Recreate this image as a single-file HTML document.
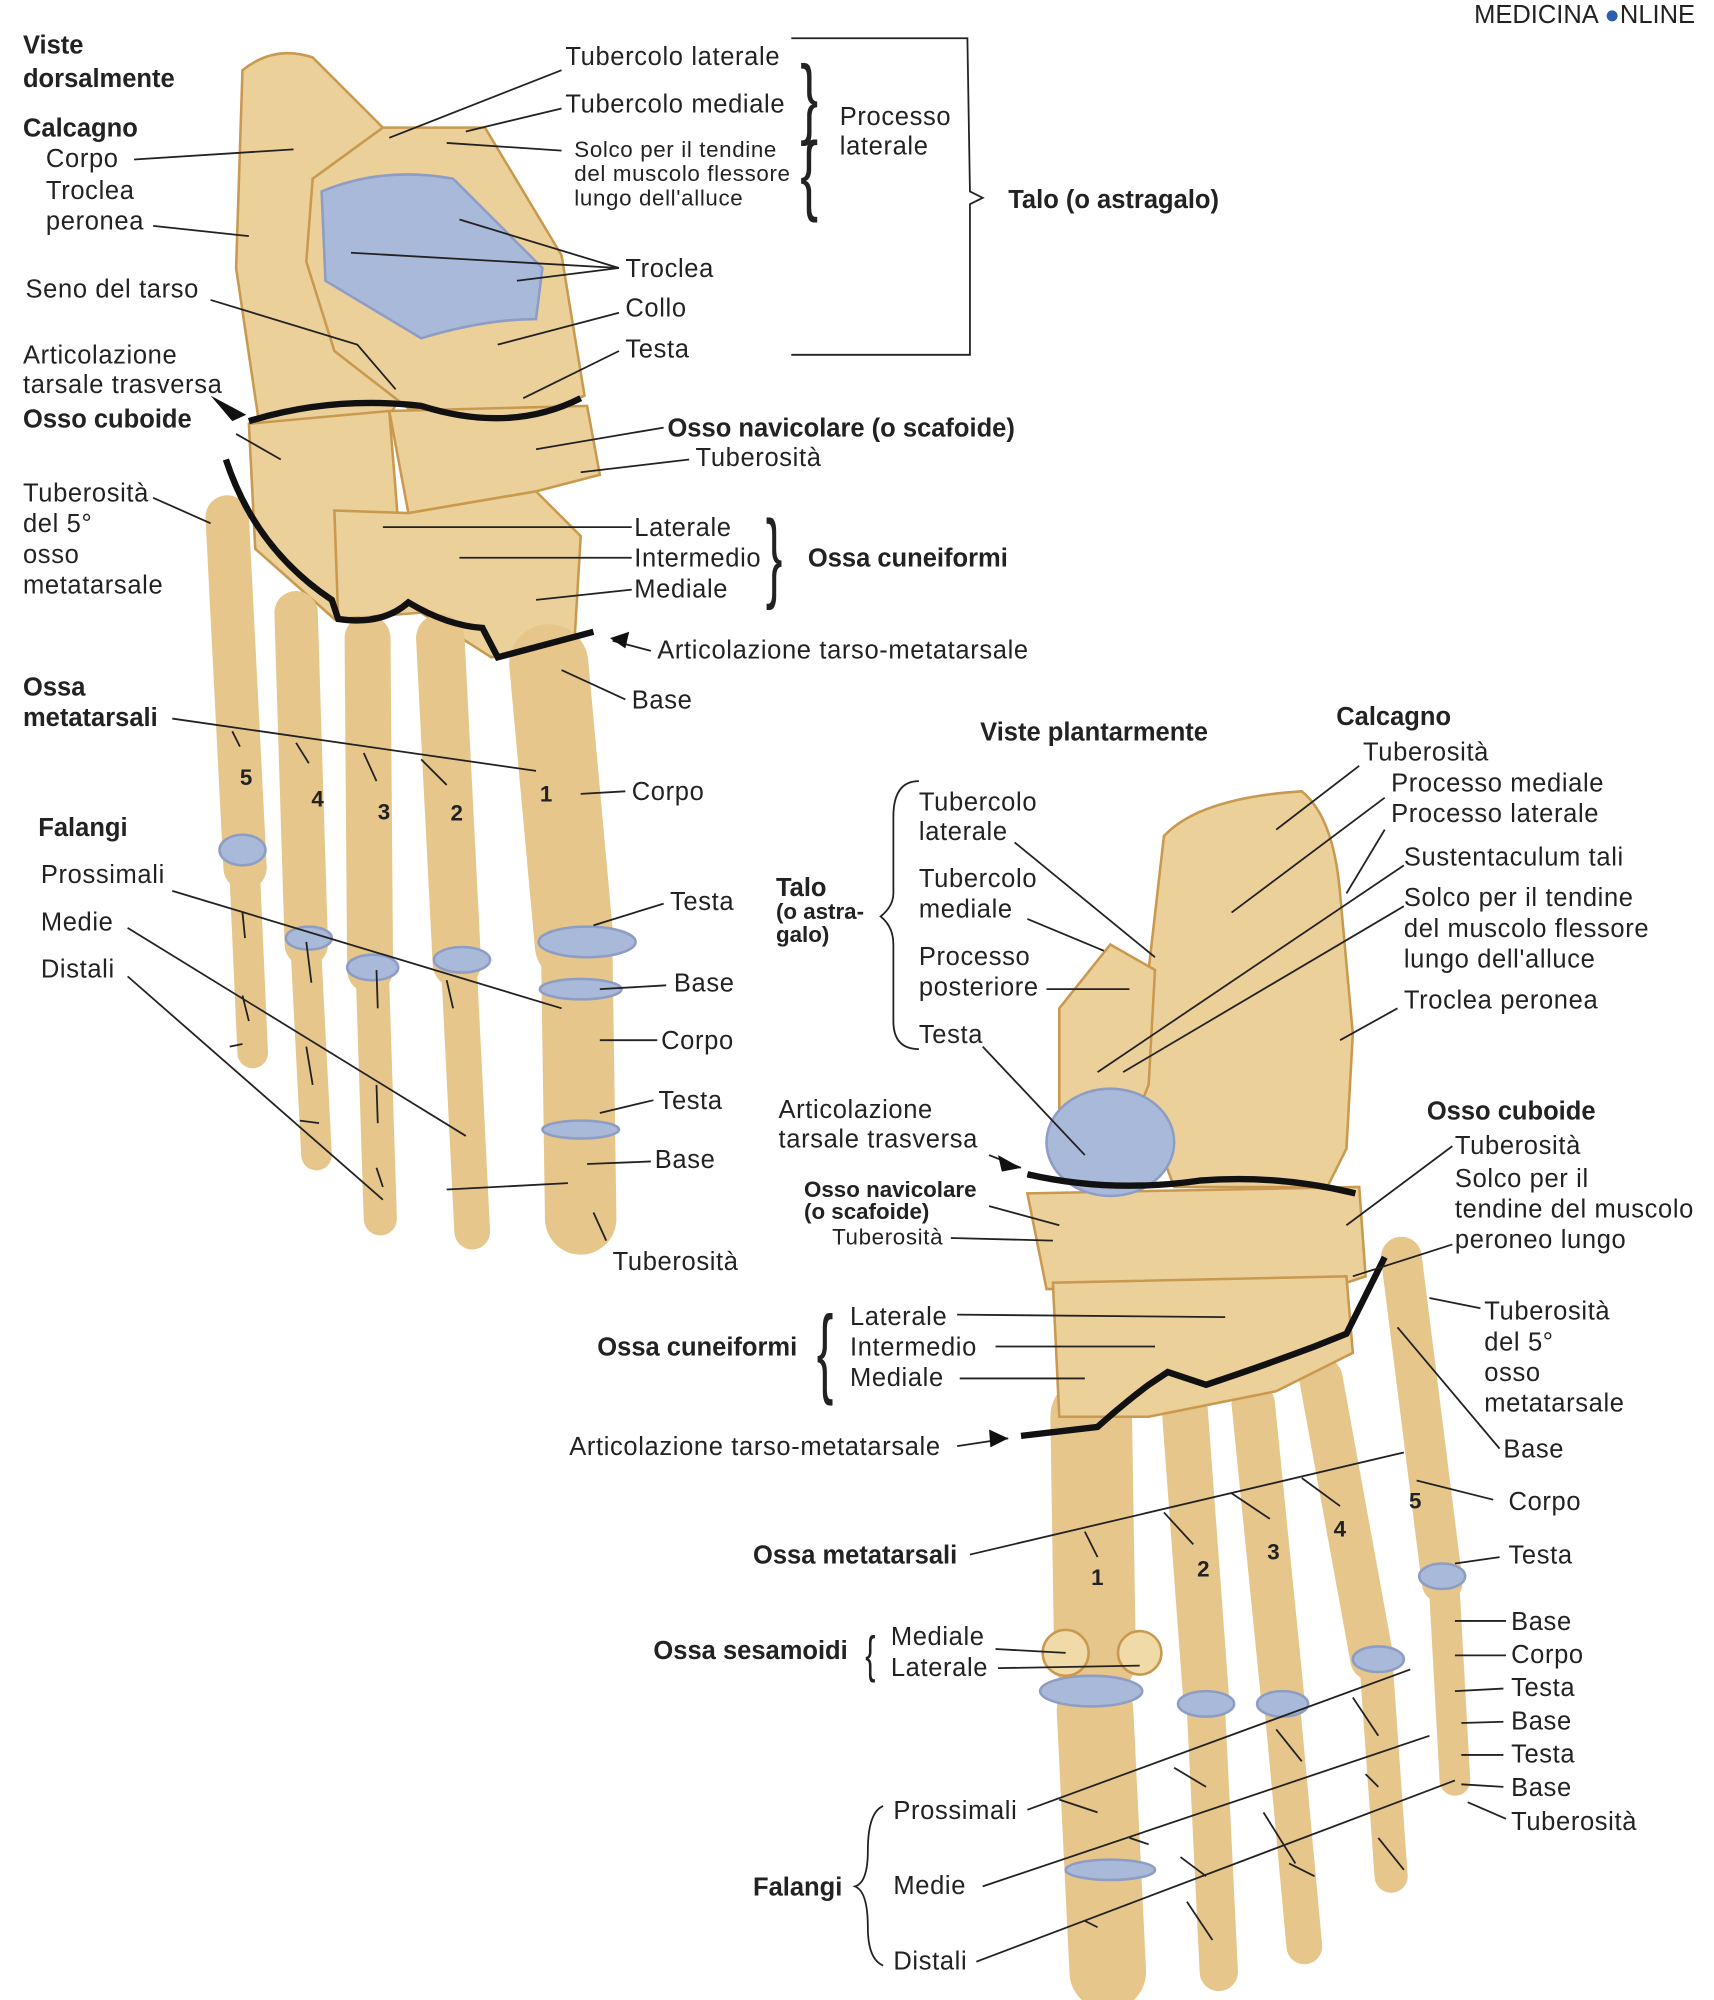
<!DOCTYPE html>
<html><head><meta charset="utf-8"><style>
html,body{margin:0;padding:0;background:#fff}
svg{display:block}
text{font-family:"Liberation Sans",sans-serif;font-size:20px;fill:#222;letter-spacing:0.5px}
.b{font-weight:bold;letter-spacing:0}
.s{font-size:17.5px}
</style></head><body>
<svg width="1714" height="2000" viewBox="0 0 1343 1567" preserveAspectRatio="none" xmlns="http://www.w3.org/2000/svg">
<g fill="#ecd09a" stroke="#c8994f" stroke-width="2">
<path d="M190 55 Q215 35 245 45 L300 100 L320 300 L300 335 L205 345 L185 210 Z"/>
<path d="M245 140 L300 100 L380 100 L440 200 L458 310 L410 330 L320 320 L262 275 L240 205 Z"/>
<path d="M252 150 Q300 130 355 140 L425 210 L420 250 Q380 250 330 265 L255 220 Z" fill="#a9b9d9" stroke="#8d9dc3"/>
<path d="M195 332 L305 322 L312 410 L262 485 L200 430 Z"/>
<path d="M305 322 L460 318 L470 372 L420 385 L320 402 Z"/>
<path d="M262 400 L320 402 L420 385 L455 420 L450 505 L385 515 L330 480 L265 485 Z"/>
</g>
<g stroke-linecap="round" fill="none" stroke="#e7c68b">
<line x1="430" y1="520" x2="450" y2="740" stroke-width="62"/>
<line x1="345" y1="500" x2="358" y2="755" stroke-width="38"/>
<line x1="288" y1="500" x2="290" y2="760" stroke-width="36"/>
<line x1="232" y1="480" x2="240" y2="740" stroke-width="34"/>
<line x1="178" y1="405" x2="192" y2="680" stroke-width="34"/>
<line x1="452" y1="750" x2="455" y2="955" stroke-width="56"/>
<line x1="360" y1="765" x2="370" y2="965" stroke-width="28"/>
<line x1="292" y1="770" x2="298" y2="955" stroke-width="26"/>
<line x1="240" y1="750" x2="248" y2="905" stroke-width="24"/>
<line x1="192" y1="690" x2="198" y2="825" stroke-width="24"/>
<line x1="855" y1="1110" x2="858" y2="1300" stroke-width="64"/>
<line x1="928" y1="1100" x2="945" y2="1330" stroke-width="36"/>
<line x1="982" y1="1100" x2="1005" y2="1330" stroke-width="34"/>
<line x1="1035" y1="1080" x2="1075" y2="1300" stroke-width="34"/>
<line x1="1098" y1="985" x2="1130" y2="1240" stroke-width="32"/>
<line x1="858" y1="1340" x2="868" y2="1545" stroke-width="60"/>
<line x1="945" y1="1340" x2="955" y2="1545" stroke-width="30"/>
<line x1="1005" y1="1340" x2="1022" y2="1525" stroke-width="28"/>
<line x1="1078" y1="1300" x2="1090" y2="1470" stroke-width="26"/>
<line x1="1132" y1="1250" x2="1140" y2="1395" stroke-width="24"/>
</g>
<g fill="#ecd09a" stroke="#c8994f" stroke-width="2">
<path d="M912 655 Q940 625 1020 620 Q1045 640 1050 700 L1060 810 L1055 900 L1040 930 L920 930 L890 850 L900 760 Z"/>
<path d="M830 790 L870 740 L905 760 L900 850 L880 900 L830 900 Z"/>
<path d="M805 935 L1065 930 L1070 1000 L1040 1010 L820 1010 Z"/>
<path d="M825 1005 L1055 1000 L1060 1060 L1000 1090 L900 1110 L830 1110 Z"/>
</g>
<ellipse cx="870" cy="895" rx="50" ry="42" fill="#a9b9d9" stroke="#8d9dc3" stroke-width="2"/>
<g fill="#a9b9d9" stroke="#8d9dc3" stroke-width="2">
<ellipse cx="460" cy="738" rx="38" ry="12"/><ellipse cx="455" cy="775" rx="32" ry="8"/>
<ellipse cx="362" cy="752" rx="22" ry="10"/><ellipse cx="292" cy="758" rx="20" ry="10"/>
<ellipse cx="242" cy="735" rx="18" ry="9"/><ellipse cx="190" cy="666" rx="18" ry="12"/>
<ellipse cx="455" cy="885" rx="30" ry="7"/>
<ellipse cx="855" cy="1325" rx="40" ry="12"/><ellipse cx="945" cy="1335" rx="22" ry="10"/>
<ellipse cx="1005" cy="1335" rx="20" ry="10"/><ellipse cx="1080" cy="1300" rx="20" ry="10"/>
<ellipse cx="1130" cy="1235" rx="18" ry="10"/>
<ellipse cx="870" cy="1465" rx="35" ry="8"/>
</g>
<g fill="#f0dba8" stroke="#c8994f" stroke-width="2">
<circle cx="835" cy="1295" r="18"/><circle cx="893" cy="1295" r="17"/>
</g>
<g stroke="#111" stroke-width="5" fill="none">
<path d="M195 330 Q260 310 330 318 Q400 340 455 312"/>
<path d="M177 360 Q200 430 260 470 L265 485 Q300 490 320 472 Q350 490 378 492 L390 515 L465 495"/>
<path d="M805 920 Q870 935 940 925 Q1000 920 1062 935"/>
<path d="M800 1125 L860 1118 Q880 1100 900 1085 L915 1075 L945 1085 Q990 1070 1030 1055 L1055 1045 L1085 985"/>
</g>
<g stroke="#222" stroke-width="1.4" fill="none">
<path d="M440 55 L305 108"/><path d="M440 85 L365 103"/><path d="M440 118 L350 112"/>
<path d="M105 125 L230 117"/><path d="M120 177 L195 185"/>
<path d="M485 210 L275 198 M485 210 L360 172 M485 210 L405 220"/>
<path d="M485 245 L390 270"/><path d="M485 275 L410 312"/>
<path d="M165 235 L280 270 L310 305"/>
<path d="M185 340 L220 360"/>
<path d="M520 335 L420 352"/><path d="M540 360 L455 370"/>
<path d="M120 390 L165 410"/>
<path d="M495 413 L300 413"/><path d="M495 437 L360 437"/><path d="M495 462 L420 470"/>
<path d="M510 510 L480 502"/>
<path d="M490 548 L440 525"/>
<path d="M135 563 L420 604 M182 573 L188 585 M232 582 L242 598 M285 590 L295 612 M330 595 L350 615"/>
<path d="M490 620 L455 622"/>
<path d="M520 708 L465 725"/><path d="M522 772 L470 775"/><path d="M515 815 L470 815"/>
<path d="M512 862 L470 872"/><path d="M510 910 L460 912"/><path d="M475 972 L465 950"/>
<path d="M135 698 L440 790 M190 715 L192 735 M240 738 L244 770 M295 760 L296 790 M350 768 L355 790"/>
<path d="M100 727 L365 890 M190 780 L195 800 M240 820 L245 850 M295 850 L296 880"/>
<path d="M100 765 L300 940 M180 820 L190 818 M235 878 L250 880 M295 915 L300 930 M350 932 L445 927"/>
<path d="M620 30 L758 30 L760 150 L770 155 L760 160 L760 278 L620 278"/>
<path d="M1065 600 L1000 650"/><path d="M1085 625 L965 715"/><path d="M1085 650 L1055 700"/>
<path d="M1100 678 L860 840"/><path d="M1100 710 L880 840"/><path d="M1095 790 L1050 815"/>
<path d="M795 660 L905 750"/><path d="M805 720 L865 745"/><path d="M820 775 L885 775"/><path d="M770 820 L850 905"/>
<path d="M775 905 L800 915"/><path d="M775 945 L830 960"/><path d="M745 970 L825 972"/>
<path d="M1138 898 L1055 960"/><path d="M1138 975 L1060 1000"/>
<path d="M1160 1025 L1120 1017"/><path d="M1175 1135 L1095 1040"/>
<path d="M750 1030 L960 1032"/><path d="M780 1055 L905 1055"/><path d="M752 1080 L850 1080"/>
<path d="M750 1133 L790 1127"/>
<path d="M760 1218 L1100 1138 M850 1200 L860 1220 M912 1185 L935 1210 M965 1170 L995 1190 M1020 1158 L1050 1180 M1110 1160 L1170 1175"/>
<path d="M1175 1220 L1140 1225"/>
<path d="M780 1292 L835 1295"/><path d="M782 1307 L893 1305"/>
<path d="M805 1418 L1105 1308 M830 1410 L860 1420 M920 1385 L945 1400 M1000 1355 L1020 1380 M1060 1330 L1080 1360"/>
<path d="M770 1478 L1120 1360 M885 1440 L900 1445 M925 1455 L945 1470 M990 1420 L1015 1460 M1070 1390 L1080 1400"/>
<path d="M765 1537 L1140 1395 M850 1505 L860 1510 M930 1490 L950 1520 M1010 1460 L1030 1470 M1080 1440 L1100 1465"/>
<path d="M1180 1270 L1140 1270 M1180 1297 L1140 1297 M1178 1323 L1140 1325 M1178 1349 L1145 1350 M1178 1375 L1145 1375 M1178 1400 L1145 1398 M1180 1425 L1150 1412"/>
<path d="M720 612 Q700 612 700 640 L700 700 Q700 710 690 718 Q700 726 700 740 L700 800 Q700 822 720 822"/>
<path d="M692 1415 Q680 1420 680 1450 Q680 1475 670 1478 Q680 1482 680 1510 Q680 1535 692 1540"/>
</g>
<g fill="#111"><path d="M165 310 L193 325 L182 330 Z"/><path d="M478 500 L493 495 L490 508 Z"/><path d="M800 915 L782 905 L785 918 Z"/><path d="M790 1127 L775 1120 L776 1134 Z"/></g>
<text x="627" y="100" style="font-size:70px" transform="scale(0.6,1) translate(418,0)">}</text>
<text x="627" y="160" style="font-size:70px" transform="scale(0.6,1) translate(418,0)">{</text>
<text x="600" y="462" style="font-size:78px" transform="scale(0.5,1) translate(600,0)">}</text>
<text x="640" y="1085" style="font-size:78px" transform="scale(0.5,1) translate(640,0)">{</text>
<text x="678" y="1310" style="font-size:40px" transform="scale(0.6,1) translate(452,0)">{</text>
<text x="1155" y="18" style="letter-spacing:0">MEDICINA <tspan fill="#2a5fb0">●</tspan>NLINE</text>
<text x="18" y="42" class="b">Viste</text><text x="18" y="68" class="b">dorsalmente</text>
<text x="18" y="107" class="b">Calcagno</text>
<text x="36" y="131">Corpo</text><text x="36" y="156">Troclea</text><text x="36" y="180">peronea</text>
<text x="20" y="233">Seno del tarso</text>
<text x="18" y="285">Articolazione</text><text x="18" y="308">tarsale trasversa</text>
<text x="18" y="335" class="b">Osso cuboide</text>
<text x="18" y="393">Tuberosità</text><text x="18" y="417">del 5°</text><text x="18" y="441">osso</text><text x="18" y="465">metatarsale</text>
<text x="18" y="545" class="b">Ossa</text><text x="18" y="569" class="b">metatarsali</text>
<text x="30" y="655" class="b">Falangi</text>
<text x="32" y="692">Prossimali</text><text x="32" y="729">Medie</text><text x="32" y="766">Distali</text>
<text x="443" y="51">Tubercolo laterale</text><text x="443" y="88">Tubercolo mediale</text>
<text x="450" y="123" class="s">Solco per il tendine</text><text x="450" y="142" class="s">del muscolo flessore</text><text x="450" y="161" class="s">lungo dell'alluce</text>
<text x="658" y="98">Processo</text><text x="658" y="121">laterale</text>
<text x="790" y="163" class="b">Talo (o astragalo)</text>
<text x="490" y="217">Troclea</text><text x="490" y="248">Collo</text><text x="490" y="280">Testa</text>
<text x="523" y="342" class="b">Osso navicolare (o scafoide)</text>
<text x="545" y="365">Tuberosità</text>
<text x="497" y="420">Laterale</text><text x="497" y="444">Intermedio</text><text x="497" y="468">Mediale</text>
<text x="633" y="444" class="b">Ossa cuneiformi</text>
<text x="515" y="516">Articolazione tarso-metatarsale</text>
<text x="495" y="555">Base</text><text x="495" y="627">Corpo</text>
<text x="525" y="713">Testa</text><text x="528" y="777">Base</text><text x="518" y="822">Corpo</text>
<text x="516" y="869">Testa</text><text x="513" y="915">Base</text><text x="480" y="995">Tuberosità</text>
<text x="188" y="615" class="b s">5</text><text x="244" y="632" class="b s">4</text><text x="296" y="642" class="b s">3</text><text x="353" y="643" class="b s">2</text><text x="423" y="628" class="b s">1</text>
<text x="855" y="1242" class="b s">1</text><text x="938" y="1235" class="b s">2</text><text x="993" y="1222" class="b s">3</text><text x="1045" y="1204" class="b s">4</text><text x="1104" y="1182" class="b s">5</text>
<text x="768" y="580" class="b">Viste plantarmente</text>
<text x="1047" y="568" class="b">Calcagno</text>
<text x="1068" y="596">Tuberosità</text><text x="1090" y="620">Processo mediale</text><text x="1090" y="644">Processo laterale</text>
<text x="1100" y="678">Sustentaculum tali</text>
<text x="1100" y="710">Solco per il tendine</text><text x="1100" y="734">del muscolo flessore</text><text x="1100" y="758">lungo dell'alluce</text>
<text x="1100" y="790">Troclea peronea</text>
<text x="720" y="635">Tubercolo</text><text x="720" y="658">laterale</text>
<text x="720" y="695">Tubercolo</text><text x="720" y="719">mediale</text>
<text x="720" y="756">Processo</text><text x="720" y="780">posteriore</text>
<text x="720" y="817">Testa</text>
<text x="608" y="702" class="b">Talo</text><text x="608" y="720" class="b s">(o astra-</text><text x="608" y="738" class="b s">galo)</text>
<text x="610" y="876">Articolazione</text><text x="610" y="899">tarsale trasversa</text>
<text x="630" y="938" class="b s">Osso navicolare</text><text x="630" y="955" class="b s">(o scafoide)</text>
<text x="652" y="975" class="s">Tuberosità</text>
<text x="1118" y="877" class="b">Osso cuboide</text>
<text x="1140" y="904">Tuberosità</text><text x="1140" y="930">Solco per il</text><text x="1140" y="954">tendine del muscolo</text><text x="1140" y="978">peroneo lungo</text>
<text x="1163" y="1034">Tuberosità</text><text x="1163" y="1058">del 5°</text><text x="1163" y="1082">osso</text><text x="1163" y="1106">metatarsale</text>
<text x="1178" y="1142">Base</text><text x="1182" y="1183">Corpo</text><text x="1182" y="1225">Testa</text>
<text x="468" y="1062" class="b">Ossa cuneiformi</text>
<text x="666" y="1038">Laterale</text><text x="666" y="1062">Intermedio</text><text x="666" y="1086">Mediale</text>
<text x="446" y="1140">Articolazione tarso-metatarsale</text>
<text x="590" y="1225" class="b">Ossa metatarsali</text>
<text x="512" y="1300" class="b">Ossa sesamoidi</text>
<text x="698" y="1289">Mediale</text><text x="698" y="1313">Laterale</text>
<text x="1184" y="1277">Base</text><text x="1184" y="1303">Corpo</text><text x="1184" y="1329">Testa</text><text x="1184" y="1355">Base</text><text x="1184" y="1381">Testa</text><text x="1184" y="1407">Base</text><text x="1184" y="1434">Tuberosità</text>
<text x="700" y="1425">Prossimali</text><text x="700" y="1484">Medie</text><text x="700" y="1543">Distali</text>
<text x="590" y="1485" class="b">Falangi</text>
</svg>
</body></html>
